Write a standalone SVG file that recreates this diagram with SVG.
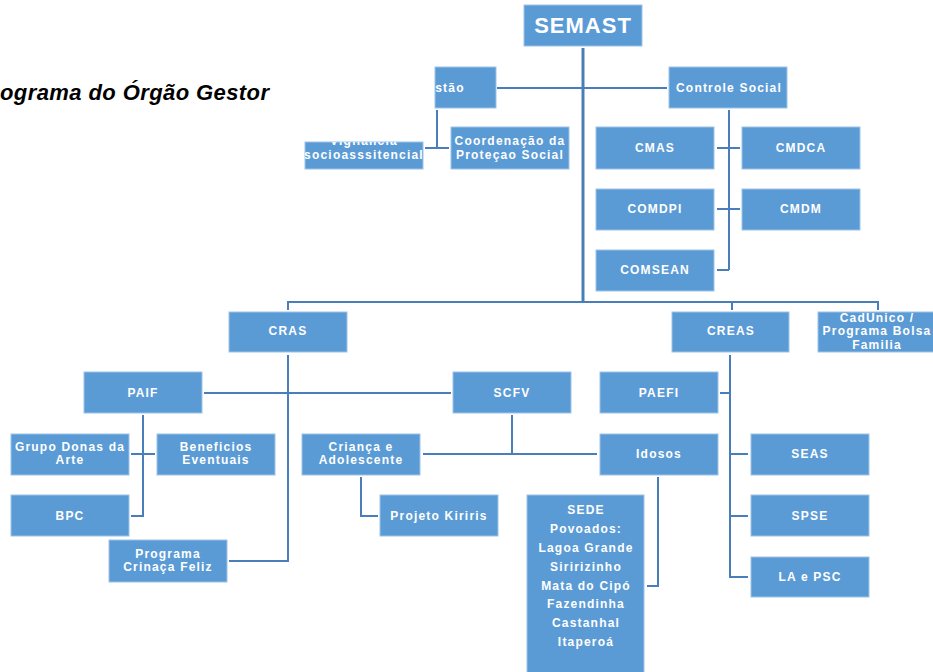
<svg xmlns="http://www.w3.org/2000/svg" width="933" height="672" viewBox="0 0 933 672">
<style>
.b{fill:#5B9BD5;stroke:#9DC3E6;stroke-width:1}
.t{fill:#fff;font-family:"Liberation Sans",Arial,sans-serif;font-weight:bold;font-size:12px;letter-spacing:1.2px;text-anchor:middle}
.c{fill:none;stroke:#4A7EBB;stroke-width:2}
</style>
<defs>
<clipPath id="cg"><rect x="435" y="67" width="61" height="41"/></clipPath>
<clipPath id="cv"><rect x="305" y="142" width="118" height="27"/></clipPath>
<clipPath id="cc"><rect x="818" y="312" width="115" height="40"/></clipPath>
</defs>
<rect width="933" height="672" fill="#fff"/>
<text x="0" y="100" font-family="Liberation Sans,Arial,sans-serif" font-weight="bold" font-style="italic" font-size="22" fill="#000" textLength="269">ograma do Órgão Gestor</text>
<g id="connectors">
<path class="c" d="M583 48V302" style="stroke-width:3"/>
<path class="c" d="M497 88H667"/>
<path class="c" d="M437 110V148M425 148H449"/>
<path class="c" d="M729 110V270M717 148H740M717 209H740M717 270H729"/>
<path class="c" d="M288 310V302H878V310M732 302V310"/>
<path class="c" d="M288 355V561H229"/>
<path class="c" d="M204 393H451"/>
<path class="c" d="M143 415V516H131M131 454H155"/>
<path class="c" d="M512 415V454M423 454H597"/>
<path class="c" d="M361 477V516H378"/>
<path class="c" d="M658 477V586H647"/>
<path class="c" d="M730 355V577H748M720 393H730M730 454H748M730 516H748"/>
</g>
<g id="semast"><rect class="b" x="524" y="5" width="118" height="41"/><text class="t" x="583" y="33" style="font-size:22px;letter-spacing:1px">SEMAST</text></g>
<g id="gestao"><rect class="b" x="435" y="67" width="61" height="41"/><text class="t" x="450" y="92" clip-path="url(#cg)">stão</text></g>
<g id="controle"><rect class="b" x="669" y="67" width="118" height="41"/><text class="t" x="729" y="92">Controle Social</text></g>
<g id="vigilancia"><rect class="b" x="305" y="142" width="118" height="27"/><g clip-path="url(#cv)"><text class="t" x="364" y="145">Vigilância</text><text class="t" x="364" y="159">socioasssitencial</text></g></g>
<g id="coordenacao"><rect class="b" x="451" y="127" width="118" height="42"/><text class="t" x="510" y="145">Coordenação da</text><text class="t" x="510" y="159">Proteçao Social</text></g>
<g id="cmas"><rect class="b" x="596" y="127" width="118" height="42"/><text class="t" x="655" y="152">CMAS</text></g>
<g id="cmdca"><rect class="b" x="742" y="127" width="118" height="42"/><text class="t" x="801" y="152">CMDCA</text></g>
<g id="comdpi"><rect class="b" x="596" y="189" width="118" height="41"/><text class="t" x="655" y="213">COMDPI</text></g>
<g id="cmdm"><rect class="b" x="742" y="189" width="118" height="41"/><text class="t" x="801" y="213">CMDM</text></g>
<g id="comsean"><rect class="b" x="596" y="250" width="118" height="41"/><text class="t" x="655" y="274">COMSEAN</text></g>
<g id="cras"><rect class="b" x="229" y="312" width="118" height="40"/><text class="t" x="288" y="335">CRAS</text></g>
<g id="creas"><rect class="b" x="672" y="312" width="117" height="40"/><text class="t" x="731" y="335">CREAS</text></g>
<g id="cadunico"><rect class="b" x="818" y="312" width="118" height="40"/><g clip-path="url(#cc)"><text class="t" x="877" y="322">CadUnico /</text><text class="t" x="877" y="335">Programa Bolsa</text><text class="t" x="877" y="349">Familia</text></g></g>
<g id="paif"><rect class="b" x="84" y="372" width="118" height="41"/><text class="t" x="143" y="397">PAIF</text></g>
<g id="scfv"><rect class="b" x="453" y="372" width="118" height="41"/><text class="t" x="512" y="397">SCFV</text></g>
<g id="paefi"><rect class="b" x="600" y="372" width="118" height="41"/><text class="t" x="659" y="397">PAEFI</text></g>
<g id="grupo"><rect class="b" x="11" y="434" width="118" height="41"/><text class="t" x="70" y="451">Grupo Donas da</text><text class="t" x="70" y="464">Arte</text></g>
<g id="beneficios"><rect class="b" x="157" y="434" width="118" height="41"/><text class="t" x="216" y="451">Beneficios</text><text class="t" x="216" y="464">Eventuais</text></g>
<g id="crianca"><rect class="b" x="302" y="434" width="118" height="41"/><text class="t" x="361" y="451">Criança e</text><text class="t" x="361" y="464">Adolescente</text></g>
<g id="idosos"><rect class="b" x="600" y="434" width="118" height="41"/><text class="t" x="659" y="458">Idosos</text></g>
<g id="seas"><rect class="b" x="751" y="434" width="118" height="41"/><text class="t" x="810" y="458">SEAS</text></g>
<g id="bpc"><rect class="b" x="11" y="495" width="118" height="41"/><text class="t" x="70" y="520">BPC</text></g>
<g id="kiriris"><rect class="b" x="380" y="495" width="118" height="41"/><text class="t" x="439" y="520">Projeto Kiriris</text></g>
<g id="spse"><rect class="b" x="751" y="495" width="118" height="41"/><text class="t" x="810" y="520">SPSE</text></g>
<g id="lapsc"><rect class="b" x="751" y="557" width="118" height="40"/><text class="t" x="810" y="581">LA e PSC</text></g>
<g id="crianca-feliz"><rect class="b" x="109" y="540" width="118" height="42"/><text class="t" x="168" y="558">Programa</text><text class="t" x="168" y="571">Crinaça Feliz</text></g>
<g id="sede"><rect class="b" x="527" y="495" width="117" height="180"/>
<text class="t" x="586" y="514">SEDE</text>
<text class="t" x="586" y="533">Povoados:</text>
<text class="t" x="586" y="552">Lagoa Grande</text>
<text class="t" x="586" y="571">Siririzinho</text>
<text class="t" x="586" y="590">Mata do Cipó</text>
<text class="t" x="586" y="608">Fazendinha</text>
<text class="t" x="586" y="627">Castanhal</text>
<text class="t" x="586" y="646">Itaperoá</text>
</g>
</svg>
